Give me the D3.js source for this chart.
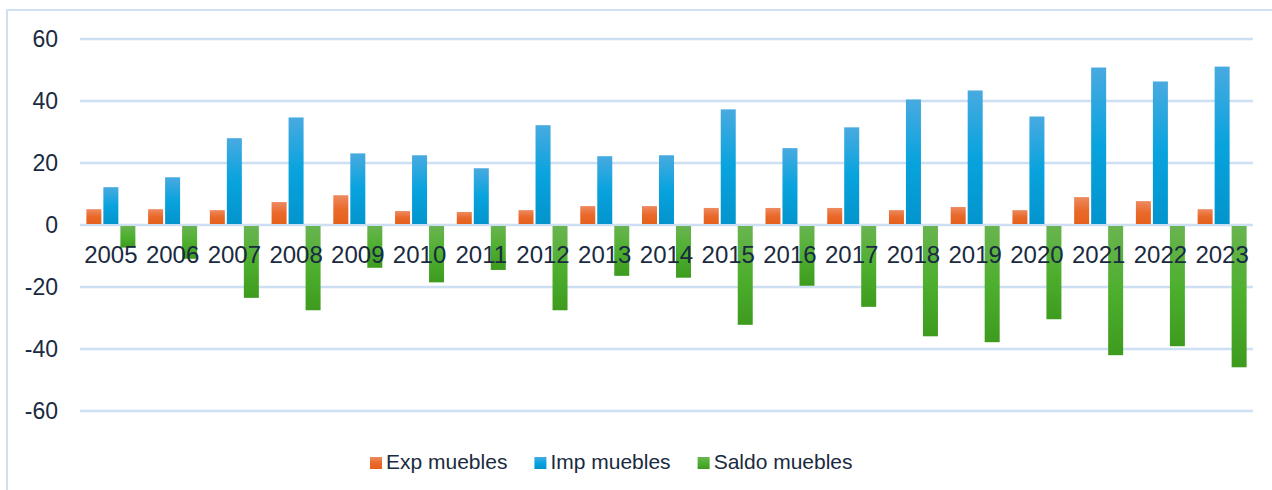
<!DOCTYPE html>
<html>
<head>
<meta charset="utf-8">
<script src="https://cdn.jsdelivr.net/npm/d3@7"></script>
<style>
  body { margin: 0; background: #fff; }
  text { font-family: "Liberation Sans", Arial, sans-serif; fill: #1a2a40; }
</style>
</head>
<body>
<script>
var width = 1272;
var height = 490;

// data (millions)
var years = ["2005","2006","2007","2008","2009","2010","2011","2012","2013","2014",
    "2015","2016","2017","2018","2019","2020","2021","2022","2023"];
var expMuebles = [5.1, 5.1, 4.8, 7.4, 9.6, 4.5, 4.2, 4.8, 6.1, 6.1, 5.5, 5.5, 5.5, 4.8, 5.8, 4.8, 9.0, 7.7, 5.1];
var impMuebles = [12.2, 15.4, 28.0, 34.7, 23.1, 22.5, 18.3, 32.2, 22.2, 22.5, 37.3, 24.8, 31.5, 40.5, 43.4, 35.0, 50.8, 46.3, 51.1];
var saldoMuebles = [-7.3, -10.9, -23.5, -27.5, -13.8, -18.5, -14.5, -27.5, -16.4, -17.0, -32.2, -19.6, -26.4, -35.9, -37.8, -30.4, -42.0, -39.1, -45.9];
var seriesNames = ["Exp muebles", "Imp muebles", "Saldo muebles"];
var yTicks = [-60, -40, -20, 0, 20, 40, 60];

var seriesValues = [expMuebles, impMuebles, saldoMuebles];
var gradStops = [
    ["#ee8a60", "#e9692a", "#e5601c"],
    ["#48aae0", "#08a3de", "#0394cd"],
    ["#69b450", "#4eaf2e", "#3d9b1e"]
];

var svg = d3.select("body").append("svg")
    .attr("width", width)
    .attr("height", height);

var defs = svg.append("defs");
gradStops.forEach(function(s, i) {
    var g = defs.append("linearGradient")
        .attr("id", "grad" + i)
        .attr("x1", 0).attr("y1", 0).attr("x2", 0).attr("y2", 1);
    g.append("stop").attr("offset", "0%").attr("stop-color", s[0]);
    g.append("stop").attr("offset", "50%").attr("stop-color", s[1]);
    g.append("stop").attr("offset", "100%").attr("stop-color", s[2]);
});

// chart frame (runs off right/bottom edge)
svg.append("rect")
    .attr("x", 7).attr("y", 10)
    .attr("width", 1400).attr("height", 600)
    .attr("fill", "none")
    .attr("stroke", "#cfe0f3")
    .attr("stroke-width", 2);

var left = 80, right = 1253;

var y = d3.scaleLinear()
    .domain([-60, 60])
    .range([411, 39]);

var x0 = d3.scaleBand()
    .domain(years)
    .range([left, right])
    .padding(0);

var groupW = 49;
var x1 = d3.scaleBand()
    .domain(d3.range(3))
    .range([(x0.bandwidth() - groupW) / 2, (x0.bandwidth() + groupW) / 2])
    .paddingInner(2 / 17);

// gridlines
svg.append("g").attr("class", "grid")
    .selectAll("line")
    .data(yTicks)
    .enter()
    .append("line")
    .attr("x1", left).attr("x2", right)
    .attr("y1", function(d) { return y(d); })
    .attr("y2", function(d) { return y(d); })
    .attr("stroke", "#cddff3")
    .attr("stroke-width", 2.5);

// y tick labels
svg.append("g").attr("class", "yticks")
    .selectAll("text")
    .data(yTicks)
    .enter()
    .append("text")
    .attr("x", 58)
    .attr("y", function(d) { return y(d); })
    .attr("dy", "0.36em")
    .attr("text-anchor", "end")
    .style("font-size", "23px")
    .text(function(d) { return d; });

// bars
var groups = svg.append("g").attr("class", "bars")
    .selectAll("g")
    .data(years)
    .enter()
    .append("g")
    .attr("transform", function(d) { return "translate(" + x0(d) + ",0)"; });

groups.selectAll("rect")
    .data(function(d, i) {
        return seriesValues.map(function(vals, k) { return {k: k, v: vals[i]}; });
    })
    .enter()
    .append("rect")
    .attr("x", function(d) { return x1(d.k); })
    .attr("width", x1.bandwidth())
    .attr("y", function(d) { return d.v >= 0 ? y(d.v) : y(0) + 1; })
    .attr("height", function(d) { return d.v >= 0 ? y(0) - 1 - y(d.v) : y(d.v) - y(0) - 1; })
    .attr("fill", function(d) { return "url(#grad" + d.k + ")"; });

// year labels (drawn over bars, like the original)
svg.append("g").attr("class", "xlabels")
    .selectAll("text")
    .data(years)
    .enter()
    .append("text")
    .attr("x", function(d) { return x0(d) + x0.bandwidth() / 2; })
    .attr("y", 263)
    .attr("text-anchor", "middle")
    .style("font-size", "24px")
    .text(function(d) { return d; });

// legend
var legend = svg.append("g").attr("class", "legend");
var lx = 370;
seriesNames.forEach(function(name, i) {
    legend.append("rect")
        .attr("x", lx).attr("y", 457)
        .attr("width", 12).attr("height", 12)
        .attr("fill", "url(#grad" + i + ")");
    var t = legend.append("text")
        .attr("x", lx + 16)
        .attr("y", 469)
        .style("font-size", "21px")
        .text(name);
    lx = lx + 16 + t.node().getComputedTextLength() + 27;
});
</script>
</body>
</html>
